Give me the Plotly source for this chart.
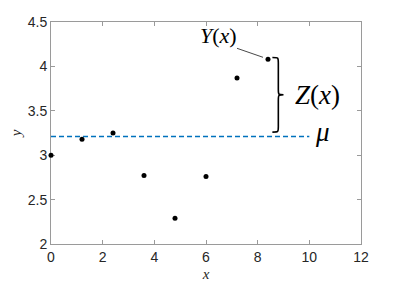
import plotly.graph_objects as go

# data
x_vals = [0.0, 1.2, 2.4, 3.6, 4.8, 6.0, 7.2, 8.4]
y_vals = [3.00, 3.18, 3.25, 2.77, 2.29, 2.76, 3.87, 4.08]
mu = 3.21
mu_x = [0, 10]
x_ticks = [0, 2, 4, 6, 8, 10, 12]
y_ticks = [2, 2.5, 3, 3.5, 4, 4.5]
y_tick_labels = ["2", "2.5", "3", "3.5", "4", "4.5"]

fig = go.Figure()
fig.add_trace(go.Scatter(x=mu_x, y=[mu, mu], mode="lines",
                         line=dict(color="#0072BD", width=1.6, dash="5px,3px"),
                         hoverinfo="skip", cliponaxis=False))
fig.add_trace(go.Scatter(x=x_vals, y=y_vals, mode="markers",
                         marker=dict(color="black", size=5), cliponaxis=False))

# curly brace from mu up to the last point
xp, yp = x_vals[-1], y_vals[-1]
top = yp + 0.02
bot = mu + 0.05
mid = (top + bot) / 2
x0 = xp + 0.17
x1 = xp + 0.40
x2 = xp + 0.60
dy = 0.06
path = (f"M {x0},{top} C {x1},{top} {x1},{top} {x1},{top-dy} "
        f"L {x1},{mid+dy} C {x1},{mid} {x1},{mid} {x2},{mid} "
        f"C {x1},{mid} {x1},{mid} {x1},{mid-dy} "
        f"L {x1},{bot+dy} C {x1},{bot} {x1},{bot} {x0},{bot}")
shapes = [
    dict(type="path", path=path, xref="x", yref="y",
         line=dict(color="black", width=1.6)),
    dict(type="line", xref="x", yref="y", xsizemode="pixel", ysizemode="pixel",
         xanchor=xp, yanchor=yp, x0=-31, y0=11, x1=-5, y1=2,
         line=dict(color="#333333", width=0.9)),
]

serif = "Liberation Serif"
annotations = [
    dict(x=xp, y=yp, xref="x", yref="y", text="<i>Y</i>(<i>x</i>)", showarrow=False,
         xshift=-50, yshift=24, font=dict(family=serif, size=22, color="black")),
    dict(x=x2, y=mid, xref="x", yref="y", text="<i>Z</i>(<i>x</i>)", showarrow=False,
         xanchor="left", xshift=9, font=dict(family=serif, size=27, color="black")),
    dict(x=mu_x[1], y=mu, xref="x", yref="y", text="<i>μ</i>", showarrow=False,
         xanchor="left", xshift=4, yshift=5, font=dict(family=serif, size=27, color="black")),
]

axis_common = dict(showgrid=False, zeroline=False, showline=True, linecolor="#9a9a9a",
                   linewidth=1, mirror="ticks", ticks="inside", ticklen=4, automargin=False,
                   layer="below traces",
                   tickcolor="#9a9a9a", tickfont=dict(family="Liberation Sans", size=14, color="#262626"))

# page body has an 8px margin, so the figure is sized/offset to compensate
fig.update_layout(
    width=390, height=279,
    margin=dict(l=43, r=37, t=14, b=43),
    plot_bgcolor="white", paper_bgcolor="white",
    showlegend=False,
    shapes=shapes, annotations=annotations,
    xaxis=dict(range=[0, 12], tickvals=x_ticks, **axis_common,
               title=dict(text="<i>x</i>", font=dict(family=serif, size=15, color="#262626"), standoff=4)),
    yaxis=dict(range=[2, 4.5], tickvals=y_ticks, ticktext=y_tick_labels, **axis_common,
               title=dict(text="<i>y</i>", font=dict(family=serif, size=15, color="#262626"), standoff=10)),
)

fig.write_html("out.html")
